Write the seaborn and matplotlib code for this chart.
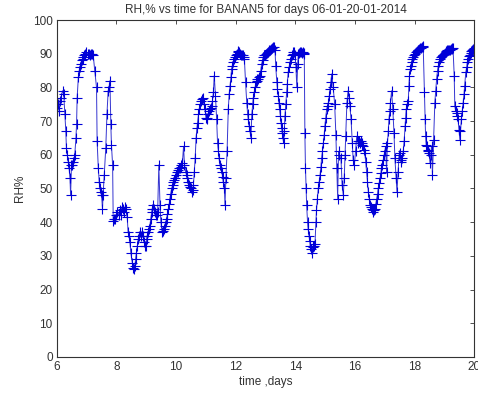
import matplotlib
matplotlib.use("Agg")
import matplotlib.pyplot as plt
import seaborn as sns
import pandas as pd

time_days = [
    6.00, 6.02, 6.05, 6.08, 6.10, 6.14, 6.19, 6.23, 6.27, 6.30, 6.32, 6.35, 6.38, 6.41, 6.44, 6.46,
    6.49, 6.52, 6.55, 6.58, 6.60, 6.64, 6.66, 6.68, 6.72, 6.75, 6.77, 6.80, 6.83, 6.86, 6.88, 6.92,
    6.96, 6.99, 7.03, 7.07, 7.11, 7.15, 7.18, 7.22, 7.27, 7.33, 7.35, 7.39, 7.42, 7.44, 7.47, 7.50,
    7.53, 7.55, 7.59, 7.64, 7.68, 7.72, 7.75, 7.78, 7.81, 7.83, 7.87, 7.89, 7.92, 7.95, 8.00, 8.03,
    8.07, 8.11, 8.14, 8.17, 8.21, 8.25, 8.28, 8.31, 8.36, 8.39, 8.42, 8.45, 8.48, 8.53, 8.56, 8.59,
    8.62, 8.64, 8.67, 8.70, 8.73, 8.76, 8.79, 8.82, 8.86, 8.90, 8.93, 8.96, 8.98, 9.01, 9.03, 9.06,
    9.09, 9.12, 9.15, 9.18, 9.20, 9.23, 9.26, 9.29, 9.32, 9.35, 9.38, 9.42, 9.46, 9.49, 9.53, 9.56,
    9.58, 9.62, 9.65, 9.68, 9.71, 9.74, 9.77, 9.79, 9.82, 9.85, 9.88, 9.90, 9.93, 9.96, 9.99, 10.02,
    10.05, 10.07, 10.10, 10.13, 10.16, 10.18, 10.21, 10.25, 10.28, 10.32, 10.35, 10.38, 10.41, 10.44,
    10.46, 10.49, 10.52, 10.55, 10.58, 10.61, 10.64, 10.67, 10.70, 10.72, 10.75, 10.77, 10.81, 10.85,
    10.88, 10.91, 10.94, 10.97, 11.00, 11.02, 11.05, 11.08, 11.11, 11.13, 11.16, 11.19, 11.22, 11.25,
    11.28, 11.32, 11.36, 11.39, 11.42, 11.44, 11.47, 11.50, 11.53, 11.56, 11.58, 11.62, 11.64, 11.67,
    11.71, 11.75, 11.78, 11.81, 11.84, 11.86, 11.89, 11.92, 11.95, 11.98, 12.01, 12.03, 12.06, 12.09,
    12.12, 12.15, 12.18, 12.20, 12.24, 12.27, 12.29, 12.33, 12.37, 12.40, 12.42, 12.45, 12.48, 12.51,
    12.54, 12.57, 12.59, 12.62, 12.65, 12.68, 12.70, 12.73, 12.76, 12.79, 12.81, 12.84, 12.87, 12.90,
    12.92, 12.95, 12.98, 13.01, 13.04, 13.07, 13.10, 13.13, 13.16, 13.19, 13.22, 13.25, 13.29, 13.32,
    13.34, 13.38, 13.40, 13.43, 13.45, 13.47, 13.50, 13.52, 13.54, 13.56, 13.58, 13.61, 13.63, 13.65,
    13.68, 13.71, 13.73, 13.76, 13.79, 13.82, 13.85, 13.88, 13.91, 13.93, 13.96, 13.99, 14.02, 14.05,
    14.08, 14.10, 14.13, 14.16, 14.19, 14.22, 14.25, 14.28, 14.30, 14.32, 14.34, 14.36, 14.38, 14.41,
    14.43, 14.46, 14.48, 14.50, 14.53, 14.55, 14.58, 14.60, 14.63, 14.66, 14.69, 14.71, 14.74, 14.77,
    14.80, 14.83, 14.86, 14.88, 14.91, 14.94, 14.97, 14.99, 15.02, 15.05, 15.08, 15.11, 15.14, 15.16,
    15.19, 15.22, 15.27, 15.32, 15.36, 15.39, 15.42, 15.45, 15.48, 15.53, 15.57, 15.61, 15.64, 15.67,
    15.69, 15.73, 15.77, 15.80, 15.83, 15.87, 15.91, 15.94, 15.98, 16.02, 16.06, 16.09, 16.11, 16.14,
    16.17, 16.20, 16.22, 16.25, 16.28, 16.31, 16.33, 16.36, 16.39, 16.42, 16.45, 16.48, 16.50, 16.53,
    16.56, 16.59, 16.62, 16.65, 16.67, 16.70, 16.73, 16.76, 16.78, 16.81, 16.84, 16.87, 16.89, 16.92,
    16.95, 16.98, 17.00, 17.03, 17.06, 17.09, 17.12, 17.14, 17.17, 17.19, 17.23, 17.27, 17.31, 17.34,
    17.38, 17.41, 17.45, 17.48, 17.51, 17.53, 17.56, 17.59, 17.62, 17.65, 17.68, 17.70, 17.72, 17.75,
    17.79, 17.81, 17.83, 17.86, 17.88, 17.90, 17.92, 17.96, 17.99, 18.02, 18.05, 18.07, 18.10, 18.13,
    18.16, 18.18, 18.21, 18.24, 18.27, 18.29, 18.33, 18.35, 18.37, 18.39, 18.41, 18.44, 18.46, 18.49,
    18.52, 18.54, 18.57, 18.60, 18.64, 18.68, 18.71, 18.74, 18.77, 18.80, 18.82, 18.85, 18.88, 18.91,
    18.94, 18.96, 18.99, 19.02, 19.05, 19.07, 19.10, 19.13, 19.16, 19.18, 19.21, 19.24, 19.27, 19.29,
    19.33, 19.35, 19.38, 19.41, 19.44, 19.46, 19.49, 19.52, 19.54, 19.57, 19.60, 19.63, 19.66, 19.68,
    19.72, 19.75, 19.77, 19.80, 19.83, 19.85, 19.88, 19.91, 19.94, 19.97, 19.99,
]

rh_percent = [
    74, 73, 75, 73, 76, 77, 79, 78, 72, 67, 62, 60, 58, 56, 53, 48,
    57, 57, 58, 59, 60, 65, 69, 77, 83, 85, 86, 87, 88, 88.5, 89, 89.5,
    90, 90.5, 90, 90, 89.5, 90, 89.8, 89.5, 85, 80, 64, 56, 52, 50, 49, 48,
    44, 48, 54, 62, 72, 79, 80, 82, 69, 63, 57, 40.5, 41, 41, 42, 43,
    42, 43.5, 42, 44.5, 44, 43, 44.5, 44, 41.5, 37, 36, 34, 31, 28, 26.5, 26,
    27, 29, 31, 33, 35, 36, 37, 36, 37, 36, 34, 33, 33, 35, 36, 37,
    38, 39, 41, 43, 44, 45, 44, 43, 42, 42, 43, 57, 45, 40, 37, 37.5,
    38, 39, 40, 41, 42.5, 44, 45.5, 47, 48.5, 50, 51, 52, 52.5, 53, 54, 55,
    55, 55.5, 56, 56, 56.5, 57, 57.5, 62.5, 57, 55, 54, 53, 52, 51,
    50.5, 50, 49, 49.5, 51, 55, 59, 65, 68, 69.5, 72, 73.5, 75, 76,
    76.5, 77, 75, 73.5, 71, 70.5, 71, 72, 73, 73.5, 74, 74.5, 76, 78.5,
    83.5, 77.5, 70.5, 63.5, 61, 59, 57, 56, 55, 53.5, 52, 50, 45, 53,
    61, 73.5, 78, 80.5, 83, 85.5, 86.5, 87.5, 88.5, 89, 89.5, 90, 90.5, 90.7,
    90.5, 90, 89.7, 89.7, 89.5, 89, 88.5, 81.5, 75.5, 72, 70.5, 68.5, 67, 65,
    72, 75, 77, 78.5, 80, 81.5, 82, 82.5, 82.6, 83, 83.5, 85, 87, 88,
    89, 89.5, 89.7, 90, 90.2, 90.5, 90.7, 91, 91.2, 91.5, 91.7, 92, 92, 91,
    86.5, 81.5, 79.5, 77.5, 75.5, 73.5, 71.5, 69.5, 68, 66.5, 65, 63.5, 67, 71.5,
    75, 78.5, 81, 84.5, 86, 87.5, 88.5, 89.5, 90, 90.5, 90.5, 89.5, 86, 80,
    87, 90, 90.2, 90.5, 90.5, 90.3, 90.5, 90.2, 90, 66.5, 56, 50, 45, 40,
    38, 36, 34.5, 33, 32, 31, 32.5, 33, 33, 33.5, 40, 43.5, 47, 50,
    52, 54, 56.5, 59, 61, 63.5, 66, 68.5, 71, 73.5, 74.5, 75.5, 77.5, 79.5,
    81.5, 84, 80, 75, 66, 56, 47, 61, 60, 59, 51, 48, 53, 60,
    65.5, 75.5, 79, 77, 74.5, 70.5, 63.5, 58.5, 57, 61, 65.5, 64, 63.5, 64,
    63.5, 64, 63.5, 63, 62.5, 61.5, 60.5, 58, 55, 52, 49, 47, 45, 44.5,
    44, 43.5, 43, 43.5, 44, 45.5, 47, 48.5, 50, 51.5, 53, 54.5, 56, 57,
    58.5, 60, 61, 62.5, 55, 63.5, 67, 70.5, 73, 75.5, 79, 73.5, 66.5, 59,
    53, 49, 55, 60, 60.5, 58, 58.5, 59, 61, 64, 68.5, 71, 73.5, 75,
    76, 80.5, 83.5, 85.5, 86.5, 87.5, 88.5, 89, 89.7, 90, 90.5, 90.7, 91, 91.2,
    91.5, 91.7, 91.8, 92, 92, 92.2, 78.5, 70.5, 65.5, 63, 62.5, 61.5, 61, 60.5,
    57.5, 60, 62.5, 54, 64.5, 75.5, 79, 82.5, 85, 86.5, 87.5, 88.5, 89, 89.2,
    89.5, 89.7, 90, 90.3, 90.5, 90.7, 91, 91, 91.2, 91.2, 91.5, 91.5, 91.7, 91.7,
    83.5, 74.5, 73, 72.5, 71.5, 70.5, 67.5, 64.5, 67, 70.5, 73, 75.5, 78, 80.5,
    84.5, 86, 87.5, 88.5, 89.2, 89.7, 90.2, 90.7, 91, 91.3, 91.7,
]

x_ticks = [6, 8, 10, 12, 14, 16, 18, 20]
y_ticks = [0, 10, 20, 30, 40, 50, 60, 70, 80, 90, 100]

title_text = "RH,% vs time for BANAN5 for days 06-01-20-01-2014"
x_label = "time ,days"
y_label = "RH%"

sns.set_style("white")
plt.rcParams["font.family"] = ["Liberation Sans", "DejaVu Sans"]
plt.rcParams["font.size"] = 8

df = pd.DataFrame({"time": time_days, "rh": rh_percent})

fig = plt.figure(figsize=(4.78, 3.97), dpi=100)
ax = fig.add_axes([0.119, 0.1008, 0.873, 0.8488])

sns.lineplot(data=df, x="time", y="rh", ax=ax, sort=False, color="#3535d0",
             linewidth=0.7, marker="+", markersize=7, markeredgewidth=0.8,
             markeredgecolor="#0000d8", estimator=None)

ax.set_xlim(6, 20)
ax.set_ylim(0, 100)
ax.set_xticks(x_ticks)
ax.set_yticks(y_ticks)
ax.tick_params(direction="in", length=3, width=0.6, top=True, right=True,
               labelsize=8.5, colors="#333333", pad=3)
for s in ax.spines.values():
    s.set_visible(True)
    s.set_linewidth(0.8)
    s.set_color("#333333")
ax.set_title(title_text, fontsize=8.5, color="#333333", pad=5)
ax.set_xlabel(x_label, fontsize=8.5, color="#333333", labelpad=2)
ax.set_ylabel(y_label, fontsize=8.5, color="#333333", labelpad=5)

fig.savefig("out.png", dpi=100, facecolor="white")
